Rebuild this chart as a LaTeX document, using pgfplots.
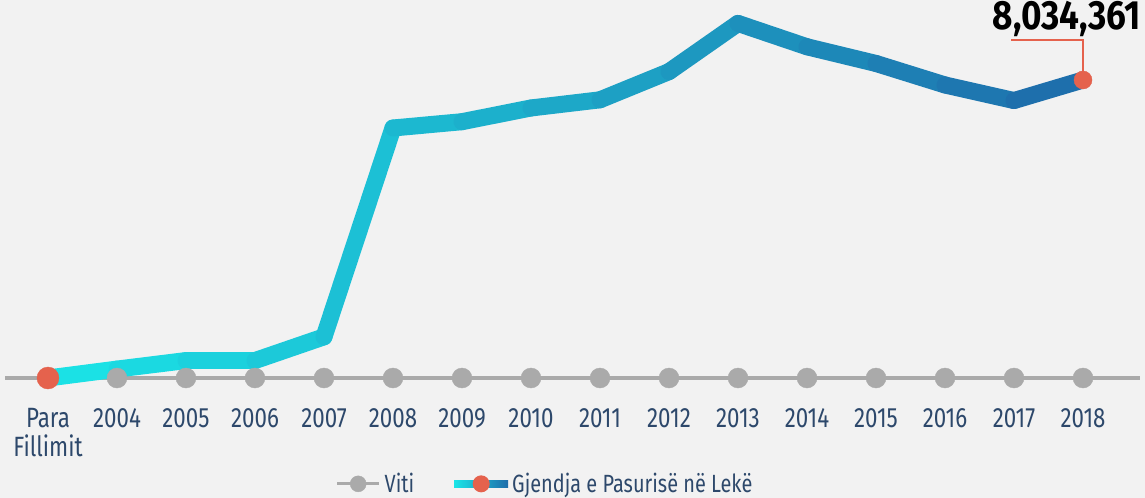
\documentclass[border=0pt]{standalone}
\usepackage{pgfplots}
\pgfplotsset{compat=1.18}
\usepackage{fontspec}
\setmainfont{Fira Sans}[FakeStretch=0.8]
\newfontfamily\boldplain{Fira Sans}[BoldFont={* Bold},Numbers=Proportional]
\definecolor{bgc}{HTML}{F2F2F2}
\definecolor{grayc}{HTML}{AAAAAA}
\definecolor{redc}{RGB}{229,98,77}
\definecolor{navy}{RGB}{45,72,107}
\definecolor{cyanc}{RGB}{27,229,231}
\definecolor{bluec}{RGB}{30,108,170}
\begin{document}
\begin{tikzpicture}
\path[fill=bgc, use as bounding box] (-5bp,-120bp) rectangle (1140bp,378bp);
\begin{axis}[
  scale only axis,
  width=1135bp, height=378bp,
  xmin=-0.623, xmax=15.826,
  ymin=0, ymax=10191000,
  clip=false,
  axis line style={draw=none},
  major tick length=0pt,
  ytick=\empty,
  xtick={0,...,15},
  xticklabels={{Para\\Fillimit},2004,2005,2006,2007,2008,2009,2010,2011,2012,2013,2014,2015,2016,2017,2018},
  xticklabel style={align=center, text=navy, font=\fontsize{28}{29}\selectfont, yshift=-27bp},
  colormap={grad}{rgb255(0cm)=(27,229,231) rgb255(1cm)=(30,108,170)},
  legend columns=2,
  legend style={draw=none, fill=none, at={(rel axis cs:0.4758,-0.28)}, anchor=center,
    font=\fontsize{25}{28}\selectfont\color{navy},
    /tikz/every even column/.append style={column sep=38bp},
    /tikz/every odd column/.append style={column sep=2bp}},
]
% Viti baseline
\addplot[grayc, line width=4.5bp, forget plot] coordinates {(-0.623,0) (15.826,0)};
\addplot[only marks, mark=*, mark size=10bp, color=grayc,
  legend image code/.code={
    \draw[grayc, line width=3bp] (0bp,0bp) -- (42bp,0bp);
    \fill[grayc] (21bp,0bp) circle (8bp);}]
  coordinates {(0,0) (1,0) (2,0) (3,0) (4,0) (5,0) (6,0) (7,0) (8,0) (9,0) (10,0) (11,0) (12,0) (13,0) (14,0) (15,0)};
\addlegendentry{Viti}
% Gjendja e Pasurise
\addplot[mesh, point meta=x, line width=17bp, line cap=round, line join=round, forget plot]
  coordinates {
  (0,0) (1,240000) (2,470000) (3,470000) (4,1110000) (5,6740000) (6,6910000)
  (7,7280000) (8,7500000) (9,8260000) (10,9560000) (11,8930000) (12,8480000)
  (13,7900000) (14,7480000) (15,8034361)};
\addlegendimage{legend image code/.code={
    \shade[draw=none, left color=cyanc, right color=bluec] (0bp,-3.5bp) rectangle (54bp,3.5bp);
    \fill[redc, draw=none] (27bp,0bp) circle (8.5bp);}}
\addlegendentry{Gjendja e Pasurisë në Lekë}
\addplot[only marks, mark=*, mark size=11bp, color=redc, forget plot] coordinates {(0,0)};
\addplot[only marks, mark=*, mark size=9bp, color=redc, forget plot] coordinates {(15,8034361)};
\draw[redc, line width=1.6bp] (axis cs:15,8034361) -- ++(0bp,40bp) -- ++(-72bp,0bp);
\node[anchor=base east, inner sep=0pt]
  at ([shift={(58bp,50bp)}]axis cs:15,8034361)
  {\scalebox{0.86}[1]{\boldplain\bfseries\fontsize{41}{41}\selectfont 8,034,361}};
\end{axis}
\end{tikzpicture}
\end{document}
